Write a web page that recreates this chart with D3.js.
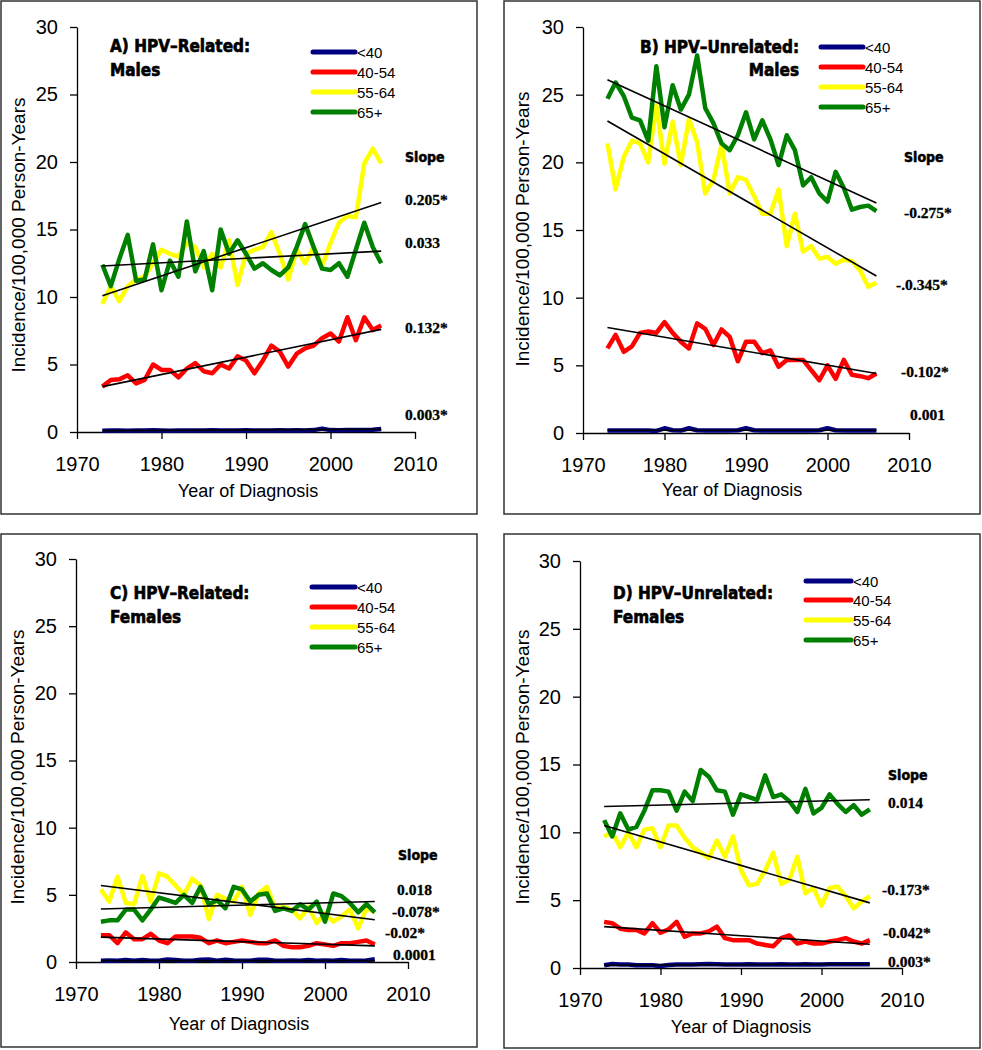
<!DOCTYPE html>
<meta charset="utf-8">
<style>
body { margin: 0; background: #fff; }
.ptitle { font-family: "DejaVu Sans Condensed", "DejaVu Sans", sans-serif; font-weight: bold; font-size: 17px; stroke: #000; stroke-width: 0.6px; }
.shead { font-family: "DejaVu Sans Condensed", "DejaVu Sans", sans-serif; font-weight: bold; font-size: 14px; stroke: #000; stroke-width: 0.5px; }
.slope { font-family: "Liberation Serif", "Times New Roman", serif; font-weight: bold; font-size: 15.5px; stroke: #000; stroke-width: 0.3px; }
.legtxt { font-family: "Liberation Sans", Arial, sans-serif; font-size: 15px; }
.atitle { font-family: "Liberation Sans", Arial, sans-serif; font-size: 18px; }
</style>
<body>
<script src="https://d3js.org/d3.v7.min.js"></script>
<script>

// x categories and tick values
var years = [1973, 1974, 1975, 1976, 1977, 1978, 1979, 1980, 1981, 1982, 1983, 1984,
  1985, 1986, 1987, 1988, 1989, 1990, 1991, 1992, 1993, 1994, 1995, 1996, 1997,
  1998, 1999, 2000, 2001, 2002, 2003, 2004, 2005, 2006];
var xTicks = [1970, 1980, 1990, 2000, 2010];
var yTicks = [0, 5, 10, 15, 20, 25, 30];
var ageGroups = ["<40", "40-54", "55-64", "65+"];
var ageColors = ["#000080", "#ff0000", "#ffff00", "#008000"];

// A) HPV-related, males
var A_lt40 = [0.10,0.12,0.11,0.10,0.12,0.11,0.13,0.12,0.10,0.11,0.12,0.12,0.11,0.13,0.12,0.11,0.12,0.13,0.12,0.11,0.12,0.13,0.12,0.13,0.12,0.14,0.25,0.14,0.13,0.14,0.15,0.14,0.16,0.22];
var A_40_54 = [3.36,3.85,3.9,4.2,3.6,3.85,5.0,4.6,4.6,4.05,4.7,5.1,4.5,4.35,5.0,4.7,5.6,5.3,4.35,5.3,6.4,5.95,4.85,5.8,6.2,6.4,6.95,7.3,6.7,8.5,6.8,8.5,7.55,7.9];
var A_55_64 = [9.5,10.8,9.7,10.8,11.3,11.5,12.5,13.5,13.2,13.0,14.0,13.7,12.2,13.2,12.2,14.2,10.9,13.2,13.5,13.7,14.8,13.2,11.3,13.5,12.5,13.7,12.3,14.0,15.5,16.0,15.9,19.9,21.0,19.9];
var A_65 = [12.4,10.8,12.8,14.6,11.2,11.3,13.9,10.5,12.7,11.5,15.6,11.9,13.4,10.5,15.0,13.2,14.2,13.2,12.1,12.5,12.0,11.6,12.2,13.7,15.4,13.7,12.1,12.0,12.5,11.5,13.5,15.5,13.7,12.5];
var A_trend = [[0.1, 0.2], [3.36, 7.6], [10.1, 17.0], [12.3, 13.4]];
var A_slopes = ["0.003*", "0.132*", "0.205*", "0.033"];

// B) HPV-unrelated, males
var B_lt40 = [0.18,0.18,0.18,0.18,0.18,0.18,0.15,0.35,0.2,0.18,0.35,0.2,0.18,0.18,0.18,0.18,0.2,0.35,0.2,0.18,0.18,0.18,0.18,0.18,0.18,0.18,0.2,0.35,0.2,0.18,0.18,0.18,0.18,0.18];
var B_40_54 = [6.25,7.25,6.0,6.4,7.4,7.5,7.4,8.2,7.4,6.75,6.25,8.1,7.7,6.5,7.65,7.1,5.3,6.75,6.75,5.9,6.1,4.9,5.4,5.4,5.4,4.65,3.9,5.0,4.0,5.4,4.3,4.2,4.05,4.4];
var B_55_64 = [21.4,18.0,20.4,21.6,21.4,20.0,24.2,19.9,23.0,19.8,23.2,21.5,17.7,18.7,21.3,17.7,18.9,18.7,17.5,16.2,16.2,18.0,13.8,16.2,13.4,13.8,12.9,13.0,12.5,12.8,12.7,12.0,10.8,11.1];
var B_65 = [24.7,25.9,24.9,23.3,23.1,21.6,27.1,22.6,25.7,23.9,25.0,27.9,24.0,22.9,21.4,20.9,22.0,23.7,21.7,23.1,21.7,19.8,22.0,20.9,18.3,18.9,17.7,17.1,19.3,18.1,16.5,16.7,16.8,16.4];
var B_trend = [[0.2, 0.2], [7.8, 4.4], [23.05, 11.6], [26.1, 17.0]];
var B_slopes = ["0.001", "-0.102*", "-.0.345*", "-0.275*"];

// C) HPV-related, females
var C_lt40 = [0.1,0.12,0.1,0.14,0.1,0.15,0.1,0.1,0.18,0.15,0.1,0.1,0.16,0.18,0.1,0.16,0.12,0.1,0.1,0.17,0.16,0.1,0.1,0.12,0.1,0.14,0.1,0.12,0.1,0.15,0.1,0.1,0.12,0.2];
var C_40_54 = [2.0,2.0,1.4,2.2,1.7,1.7,2.1,1.6,1.4,1.9,1.9,1.9,1.8,1.4,1.6,1.4,1.5,1.6,1.5,1.4,1.4,1.6,1.2,1.1,1.1,1.2,1.4,1.3,1.2,1.4,1.4,1.5,1.6,1.3];
var C_55_64 = [5.4,4.5,6.35,4.4,4.3,6.4,4.5,6.6,6.35,5.7,5.0,6.2,5.7,3.2,5.0,4.7,4.5,5.6,3.5,5.1,5.6,4.0,4.1,3.9,3.25,4.1,2.9,3.6,3.0,3.4,3.9,2.5,4.0,3.7];
var C_65 = [3.0,3.1,3.1,3.9,3.9,3.1,3.9,4.8,4.6,4.4,5.0,4.4,5.6,4.3,4.6,4.0,5.6,5.4,4.5,5.0,5.1,3.8,4.0,3.8,4.3,3.9,4.5,3.0,5.1,4.9,4.4,3.7,4.3,3.7];
var C_trend = [[0.1, 0.1], [1.85, 1.2], [5.7, 3.15], [3.95, 4.5]];
var C_slopes = ["0.0001", "-0.02*", "-0.078*", "0.018"];

// D) HPV-unrelated, females
var D_lt40 = [0.2,0.3,0.25,0.25,0.2,0.2,0.2,0.15,0.22,0.25,0.25,0.25,0.28,0.3,0.28,0.25,0.25,0.25,0.28,0.25,0.25,0.25,0.28,0.25,0.25,0.28,0.25,0.25,0.28,0.28,0.28,0.28,0.28,0.28];
var D_40_54 = [3.4,3.3,2.9,2.8,2.8,2.55,3.3,2.6,2.85,3.4,2.3,2.55,2.55,2.7,3.05,2.2,2.05,2.05,2.05,1.8,1.7,1.6,2.2,2.4,1.8,1.95,1.8,1.8,1.95,2.05,2.2,1.95,1.8,2.05];
var D_55_64 = [9.7,10.0,8.9,10.0,8.9,10.2,10.3,8.9,10.5,10.5,9.6,8.9,8.5,8.1,9.4,8.2,9.7,7.2,6.1,6.2,7.2,8.5,6.2,6.5,8.2,5.5,5.9,4.6,5.9,6.0,5.3,4.4,4.9,5.3];
var D_65 = [10.9,9.7,11.4,10.2,10.4,11.6,13.1,13.1,13.0,11.6,13.0,12.3,14.6,14.1,13.1,13.0,11.3,12.8,12.6,12.4,14.2,12.6,12.8,12.3,11.5,13.2,11.4,11.8,12.8,12.1,11.5,12.0,11.3,11.7];
var D_trend = [[0.2, 0.3], [3.05, 1.75], [10.5, 4.8], [11.9, 12.4]];
var D_slopes = ["0.003*", "-0.042*", "-0.173*", "0.014"];

var panels = [
  {title: ["A) HPV\u2013Related:", "Males"], series: [A_lt40, A_40_54, A_55_64, A_65], trend: A_trend, slopes: A_slopes},
  {title: ["B) HPV\u2013Unrelated:", "Males"], series: [B_lt40, B_40_54, B_55_64, B_65], trend: B_trend, slopes: B_slopes},
  {title: ["C) HPV\u2013Related:", "Females"], series: [C_lt40, C_40_54, C_55_64, C_65], trend: C_trend, slopes: C_slopes},
  {title: ["D) HPV\u2013Unrelated:", "Females"], series: [D_lt40, D_40_54, D_55_64, D_65], trend: D_trend, slopes: D_slopes}
];

// layout of each panel (pixels)
var layouts = [
  {frame: [1, 1, 477, 514], xr: [77, 415], yr: [432, 27], titleX: 110, titleY: [52, 76], titleAnchor: "start",
   legX: [313, 355], legY: [52, 72, 92, 112], yTitle: [25, 235], xTitle: [248, 497],
   slopeHead: [405, 162], slopePos: [[405, 420], [405, 333], [405, 205], [405, 248]]},
  {frame: [504, 1, 980, 514], xr: [583, 909], yr: [433, 27], titleX: 799, titleY: [53, 76], titleAnchor: "end",
   legX: [821, 863], legY: [47, 67, 87, 107], yTitle: [529, 229], xTitle: [732, 496],
   slopeHead: [904, 162], slopePos: [[910, 420], [901, 377], [896, 290], [904, 218]]},
  {frame: [1, 534, 477, 1047], xr: [76, 408], yr: [962, 559], titleX: 110, titleY: [599, 623], titleAnchor: "start",
   legX: [312, 355], legY: [587, 607, 627, 647], yTitle: [24, 767], xTitle: [239, 1030],
   slopeHead: [398, 860], slopePos: [[393, 960], [385, 938], [392, 917], [397, 895]]},
  {frame: [504, 534, 980, 1048], xr: [580, 902], yr: [968, 561], titleX: 613, titleY: [599, 623], titleAnchor: "start",
   legX: [806, 851], legY: [581, 600, 620, 640], yTitle: [529, 767], xTitle: [741, 1033],
   slopeHead: [888, 780], slopePos: [[888, 967], [883, 938], [882, 895], [888, 808]]}
];

var svg = d3.select("body").append("svg")
  .attr("width", 982)
  .attr("height", 1050);

function drawPanel(p, L) {
  var g = svg.append("g");

  g.append("rect")
    .attr("x", L.frame[0]).attr("y", L.frame[1])
    .attr("width", L.frame[2] - L.frame[0])
    .attr("height", L.frame[3] - L.frame[1])
    .attr("fill", "none").attr("stroke", "#333").attr("stroke-width", 1.5);

  var x = d3.scaleLinear().domain([1970, 2010]).range(L.xr);
  var y = d3.scaleLinear().domain([0, 30]).range(L.yr);

  var ya = g.append("g")
    .attr("transform", "translate(" + L.xr[0] + ",0)")
    .call(d3.axisLeft(y).tickValues(yTicks).tickSize(7).tickSizeOuter(0).tickPadding(12));
  var xa = g.append("g")
    .attr("transform", "translate(0," + L.yr[0] + ")")
    .call(d3.axisBottom(x).tickValues(xTicks).tickFormat(d3.format("d"))
      .tickSize(7).tickSizeOuter(0).tickPadding(18));
  [ya, xa].forEach(function(a) {
    a.attr("font-size", 20).attr("font-family", "'Liberation Sans', Arial, sans-serif");
    a.selectAll("line, path").attr("stroke", "#000").attr("stroke-width", 1.3);
    a.selectAll("text").attr("fill", "#000");
  });

  var line = d3.line()
    .x(function(v, i) { return x(years[i]); })
    .y(function(v) { return y(v); });

  p.series.forEach(function(s, k) {
    g.append("path")
      .attr("d", line(s))
      .attr("fill", "none")
      .attr("stroke", ageColors[k])
      .attr("stroke-width", 4.5)
      .attr("stroke-linejoin", "round");
  });

  // regression lines
  var tline = d3.line()
    .x(function(d) { return x(d[0]); })
    .y(function(d) { return y(d[1]); });
  p.trend.forEach(function(t) {
    g.append("path")
      .attr("d", tline([[years[0], t[0]], [years[years.length - 1], t[1]]]))
      .attr("fill", "none")
      .attr("stroke", "#000")
      .attr("stroke-width", 1.6);
  });

  // legend
  ageGroups.forEach(function(a, k) {
    g.append("line")
      .attr("x1", L.legX[0]).attr("x2", L.legX[1])
      .attr("y1", L.legY[k]).attr("y2", L.legY[k])
      .attr("stroke", ageColors[k]).attr("stroke-width", 5)
      .attr("stroke-linecap", "round");
    g.append("text")
      .attr("class", "legtxt")
      .attr("x", L.legX[1] + 2).attr("y", L.legY[k] + 5.5)
      .text(a);
  });

  // panel title
  p.title.forEach(function(t, k) {
    g.append("text")
      .attr("class", "ptitle")
      .attr("x", L.titleX).attr("y", L.titleY[k])
      .attr("text-anchor", L.titleAnchor)
      .text(t);
  });

  // slope labels
  g.append("text").attr("class", "shead")
    .attr("x", L.slopeHead[0]).attr("y", L.slopeHead[1])
    .text("Slope");
  p.slopes.forEach(function(s, k) {
    g.append("text").attr("class", "slope")
      .attr("x", L.slopePos[k][0]).attr("y", L.slopePos[k][1])
      .text(s);
  });

  // axis titles
  g.append("text").attr("class", "atitle")
    .attr("transform", "translate(" + L.yTitle[0] + "," + L.yTitle[1] + ") rotate(-90)")
    .attr("text-anchor", "middle")
    .style("font-size", "19px")
    .text("Incidence/100,000 Person-Years");
  g.append("text").attr("class", "atitle")
    .attr("x", L.xTitle[0]).attr("y", L.xTitle[1])
    .attr("text-anchor", "middle")
    .text("Year of Diagnosis");
}

panels.forEach(function(p, i) { drawPanel(p, layouts[i]); });

</script>
</body>
